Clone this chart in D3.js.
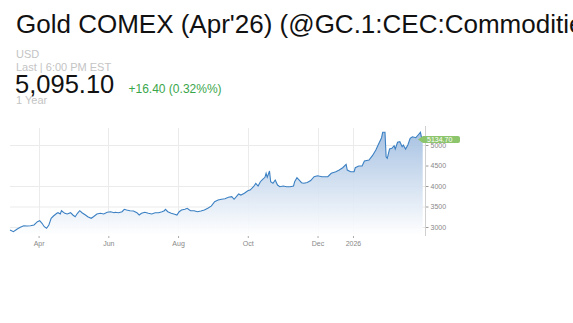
<!DOCTYPE html>
<html>
<head>
<meta charset="utf-8">
<script src="https://cdn.jsdelivr.net/npm/d3@7"></script>
<style>
  body { margin: 0; background: #fff; font-family: "Liberation Sans", Arial, sans-serif; overflow: hidden; }
</style>
</head>
<body>
<div id="chart"></div>
<script>
// Daily closes (approximate)
const dates = [
  "2025-03-07","2025-03-10","2025-03-13","2025-03-16","2025-03-19","2025-03-22","2025-03-25","2025-03-28","2025-03-31",
  "2025-04-02","2025-04-04","2025-04-06","2025-04-08","2025-04-10","2025-04-12","2025-04-14","2025-04-17","2025-04-18",
  "2025-04-20","2025-04-21","2025-04-24","2025-04-26","2025-04-29","2025-05-01","2025-05-03","2025-05-05","2025-05-07",
  "2025-05-09","2025-05-12","2025-05-14","2025-05-17","2025-05-19","2025-05-22","2025-05-25","2025-05-28","2025-05-31",
  "2025-06-03","2025-06-06","2025-06-07","2025-06-10","2025-06-13","2025-06-15","2025-06-17","2025-06-20","2025-06-23",
  "2025-06-26","2025-06-28","2025-06-30","2025-07-03","2025-07-06","2025-07-09","2025-07-12","2025-07-15","2025-07-18",
  "2025-07-20","2025-07-21","2025-07-23","2025-07-26","2025-07-29","2025-07-31","2025-08-02","2025-08-04","2025-08-07",
  "2025-08-09","2025-08-11","2025-08-12","2025-08-15","2025-08-18","2025-08-21","2025-08-24","2025-08-27","2025-08-30",
  "2025-09-02","2025-09-05","2025-09-08","2025-09-11","2025-09-14","2025-09-17","2025-09-19","2025-09-21","2025-09-23",
  "2025-09-25","2025-09-28","2025-10-01","2025-10-03","2025-10-06","2025-10-08","2025-10-10","2025-10-12","2025-10-14",
  "2025-10-16","2025-10-17","2025-10-18","2025-10-20","2025-10-21","2025-10-23","2025-10-25","2025-10-27","2025-10-29",
  "2025-11-01","2025-11-04","2025-11-07","2025-11-10","2025-11-11","2025-11-13","2025-11-15","2025-11-17","2025-11-19",
  "2025-11-22","2025-11-25","2025-11-28","2025-12-01","2025-12-05","2025-12-10","2025-12-13","2025-12-17","2025-12-20",
  "2025-12-23","2025-12-26","2025-12-27","2025-12-30","2026-01-02","2026-01-03","2026-01-06","2026-01-09","2026-01-11",
  "2026-01-15","2026-01-18","2026-01-21","2026-01-23","2026-01-26","2026-01-27","2026-01-29","2026-01-30","2026-01-31",
  "2026-02-02","2026-02-04","2026-02-06","2026-02-07","2026-02-09","2026-02-11","2026-02-13","2026-02-14","2026-02-16",
  "2026-02-18","2026-02-20","2026-02-22","2026-02-25","2026-02-27","2026-03-01","2026-03-02","2026-03-03"
];
const prices = [
  2927,2885,2944,2993,3032,3024,3032,3049,3129,
  3154,3090,3007,2968,3049,3212,3268,3334,3349,
  3317,3398,3334,3317,3349,3293,3251,3334,3398,
  3349,3293,3251,3212,3251,3317,3334,3317,3359,
  3373,3349,3359,3349,3373,3432,3415,3398,3390,
  3349,3293,3334,3359,3334,3317,3349,3349,3373,
  3398,3432,3373,3334,3310,3293,3373,3415,3432,
  3456,3415,3398,3398,3373,3390,3415,3456,3510,
  3617,3659,3676,3690,3724,3739,3676,3739,3805,
  3780,3822,3885,3902,3983,4066,4000,4105,4163,
  4212,4310,4212,4366,4105,4066,4146,4024,3983,
  4000,3983,3983,4000,4105,4202,4146,4080,4066,
  4085,4134,4227,4251,4227,4227,4310,4349,4390,
  4446,4529,4390,4349,4349,4446,4488,4488,4610,
  4634,4739,4878,5000,5178,5310,5310,4715,4676,
  4902,4919,4983,4902,5066,5080,4959,5000,4902,
  5000,5163,5202,5178,5244,5310,5178,5134.7
];

const yTicks = [3000, 3500, 4000, 4500, 5000];
const gridValues = [3000, 3500, 4000, 5000];
const monthTicks = ["2025-04-01", "2025-06-01", "2025-08-01", "2025-10-01", "2025-12-01", "2026-01-01"];
const monthLabels = ["Apr", "Jun", "Aug", "Oct", "Dec", "2026"];
const timeDomain = ["2025-03-07", "2026-03-05"];
const priceDomain = [2805, 5415];

const title = "Gold COMEX (Apr'26) (@GC.1:CEC:Commodities)";
const currency = "USD";
const lastLine = "Last | 6:00 PM EST";
const lastPrice = "5,095.10";
const change = "+16.40 (0.32%%)";
const period = "1 Year";
const lastLabel = "5134.70";

const W = 573, H = 323;
const plot = { left: 10, right: 425, top: 128, bottom: 235 };
const parse = d3.timeParse("%Y-%m-%d");

const data = dates.map((d, i) => ({ date: parse(d), price: prices[i] }));

const svg = d3.select("#chart").append("svg")
    .attr("width", W)
    .attr("height", H);

// Header texts
svg.append("text").attr("x", 16).attr("y", 32.5)
    .attr("font-size", "26px").attr("fill", "#111").text(title);
svg.append("text").attr("x", 16).attr("y", 58)
    .attr("font-size", "11px").attr("fill", "#c4c4c4").text(currency);
svg.append("text").attr("x", 16).attr("y", 71)
    .attr("font-size", "11px").attr("fill", "#c4c4c4").text(lastLine);
svg.append("text").attr("x", 15).attr("y", 92.7)
    .attr("font-size", "25.5px").attr("fill", "#111").text(lastPrice);
svg.append("text").attr("x", 128.5).attr("y", 92.7)
    .attr("font-size", "12px").attr("fill", "#3aa64a").text(change);
svg.append("text").attr("x", 16).attr("y", 104)
    .attr("font-size", "11px").attr("fill", "#c4c4c4").text(period);

// Scales
const x = d3.scaleTime()
    .domain(timeDomain.map(parse))
    .range([plot.left, plot.right]);
const y = d3.scaleLinear()
    .domain(priceDomain)
    .range([plot.bottom, plot.top]);

// Gradient
const grad = svg.append("defs").append("linearGradient")
    .attr("id", "areaGrad")
    .attr("gradientUnits", "userSpaceOnUse")
    .attr("x1", 0).attr("y1", plot.top)
    .attr("x2", 0).attr("y2", plot.bottom);
grad.append("stop").attr("offset", "0%").attr("stop-color", "#9dbbdf");
grad.append("stop").attr("offset", "100%").attr("stop-color", "#ffffff");

// Grid
const grid = svg.append("g").attr("class", "grid");
grid.selectAll(".hg").data(gridValues).enter().append("line")
    .attr("x1", plot.left).attr("x2", plot.right)
    .attr("y1", d => y(d) + 0.5).attr("y2", d => y(d) + 0.5)
    .attr("stroke", "#ebebeb");
grid.selectAll(".vg").data(monthTicks.map(parse)).enter().append("line")
    .attr("x1", d => Math.round(x(d)) + 0.5).attr("x2", d => Math.round(x(d)) + 0.5)
    .attr("y1", plot.top).attr("y2", plot.bottom)
    .attr("stroke", "#ebebeb");

// Area + line
const area = d3.area()
    .x(d => x(d.date))
    .y0(plot.bottom)
    .y1(d => y(d.price));
const line = d3.line()
    .x(d => x(d.date))
    .y(d => y(d.price));

svg.append("path").datum(data)
    .attr("d", area)
    .attr("fill", "url(#areaGrad)")
    .attr("fill-opacity", 0.92);
svg.append("path").datum(data)
    .attr("d", line)
    .attr("fill", "none")
    .attr("stroke", "#3b80c3")
    .attr("stroke-width", 1.1);

// Right axis
const yAxis = d3.axisRight(y).tickValues(yTicks).tickSize(3).tickPadding(2).tickFormat(d3.format("d"));
const gy = svg.append("g")
    .attr("transform", "translate(" + (plot.right + 0.5) + ",0)")
    .call(yAxis);
gy.select(".domain").remove();
gy.append("line").attr("x1", 0).attr("x2", 0)
    .attr("y1", plot.top - 2).attr("y2", plot.bottom + 1)
    .attr("stroke", "#d0d0d0");
gy.selectAll(".tick line").attr("stroke", "#999");
gy.selectAll(".tick text")
    .attr("font-family", "Liberation Sans, Arial, sans-serif")
    .attr("font-size", "7px").attr("fill", "#888");

// Bottom axis
const xAxis = d3.axisBottom(x)
    .tickValues(monthTicks.map(parse))
    .tickSize(2).tickPadding(3)
    .tickFormat((d, i) => monthLabels[i]);
const gx = svg.append("g")
    .attr("transform", "translate(0," + (plot.bottom + 1) + ")")
    .call(xAxis);
gx.select(".domain").remove();
gx.selectAll(".tick line").attr("stroke", "#aaa");
gx.selectAll(".tick text")
    .attr("font-family", "Liberation Sans, Arial, sans-serif")
    .attr("font-size", "7px").attr("fill", "#888");

// Last value flag
const last = data[data.length - 1];
const ly = y(last.price);
const flag = svg.append("g").attr("transform", "translate(" + (plot.right - 7) + "," + ly + ")");
flag.append("path")
    .attr("d", "M0,0 L5,-3.5 L40,-3.5 Q42,-3.5 42,-1.5 L42,1.5 Q42,3.5 40,3.5 L5,3.5 Z")
    .attr("fill", "#8dc56c");
flag.append("text").attr("x", 9).attr("y", 2.5)
    .attr("font-size", "7px").attr("fill", "#fff").text(lastLabel);
</script>
</body>
</html>
